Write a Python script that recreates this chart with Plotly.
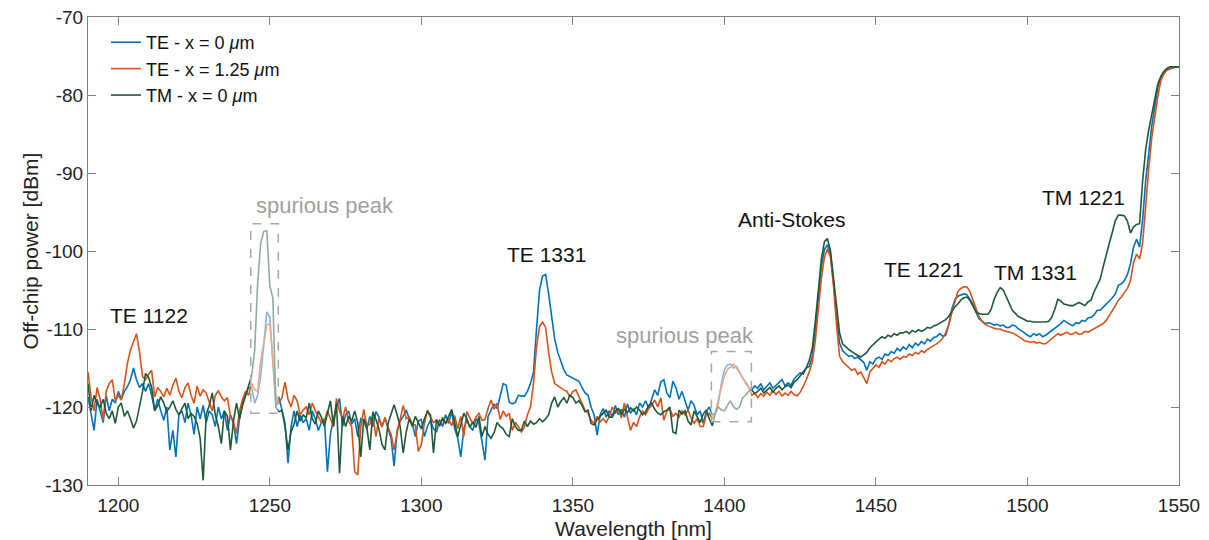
import numpy as np
import plotly.graph_objects as go

# Wavelength grid (nm), 1 nm sampling from 1190 to 1550
wavelength = list(range(1190, 1551))

te_x0 = [
    -118.7, -121, -123, -119, -120.5, -122, -118.5, -120.5, -119, -119.5,  # 1190
    -118, -119, -118, -117.4, -116.5, -115, -116.5, -117.5, -117, -118,  # 1200
    -117, -118.5, -120.4, -119, -120.5, -121.7, -120, -125.5, -123, -126.4,  # 1210
    -121, -120.5, -122, -119.5, -121, -123.5, -120, -121.5, -119.8, -122,  # 1220
    -120.5, -121, -122.5, -120, -121.5, -120.5, -123, -121, -122, -124.7,  # 1230
    -121.5, -119.5, -118.5, -117.5, -117.5, -119.5, -118.5, -116, -112, -107.8,  # 1240
    -108.5, -115, -120, -118.7, -120.5, -122.1, -127.2, -122.5, -120.5, -122.5,  # 1250
    -121, -122, -121.5, -123, -120.5, -121.5, -123, -122, -121.5, -128.3,  # 1260
    -123.5, -121.5, -120, -118.9, -122.5, -121, -120.5, -122.2, -121.5, -123.8,  # 1270
    -121.5, -121.8, -122.8, -121.2, -122.5, -120.6, -121.3, -122.5, -121.4, -122.8,  # 1280
    -124, -127.6, -123, -121.8, -121.2, -120.4, -121.5, -122.1, -123.8, -121.8,  # 1290
    -121.6, -123.8, -122.5, -121.7, -122.8, -123.2, -121.6, -122.5, -121, -122.1,  # 1300
    -120.6, -122.8, -124, -126.4, -122.8, -121.7, -122.5, -123, -121.5, -122.1,  # 1310
    -124.5, -126.8, -121.2, -120.4, -119.6, -120.2, -118.5, -117, -117.2, -119.4,  # 1320
    -119.6, -119.4, -118.5, -118.6, -118.6, -118, -117, -115.5, -110, -105,  # 1330
    -103.2, -103, -105.5, -108.6, -111.3, -113, -114.2, -115.2, -115.9, -116.1,  # 1340
    -116.3, -116.4, -116.7, -117.5, -118.2, -118.5, -120, -121, -123.6, -121,  # 1350
    -120.2, -121.3, -120.5, -121.2, -119.8, -121, -120.3, -121.3, -119.6, -120.8,  # 1360
    -120.2, -121, -119.5, -120, -119.2, -120.2, -119, -117.8, -118.5, -116.8,  # 1370
    -116.5, -118.2, -118.8, -116.7, -117.5, -119, -118, -119.3, -120.4, -119.2,  # 1380
    -119.8, -121, -120.5, -122.1, -120.6, -120, -121, -120.8, -119.5, -117,  # 1390
    -115.2, -114.6, -114.5, -115, -114.8, -115.5, -116.3, -116.8, -117.4, -117.8,  # 1400
    -117.3, -117.6, -117, -117.8, -117.4, -116.9, -117.6, -117.2, -116.8, -116.5,  # 1410
    -117.3, -116.9, -117.2, -116.4, -116, -115.6, -115.8, -115, -114.8, -113.5,  # 1420
    -110, -106, -102, -99.8, -99.2, -100.5, -104, -108.5, -111.8, -112.8,  # 1430
    -113.2, -113.5, -113.4, -113.8, -113.6, -114, -114.3, -115.3, -114.2, -114.5,  # 1440
    -113.8, -113.6, -113.9, -113.2, -113.4, -112.9, -113.1, -112.5, -112.8, -112.3,  # 1450
    -112.6, -112, -112.4, -111.8, -112.1, -111.6, -111.9, -111.3, -111.6, -111.1,  # 1460
    -111, -110.6, -110.9, -110.8, -109.5, -107.5, -106.3, -105.8, -105.6, -105.5,  # 1470
    -105.6, -106.2, -106.8, -107.8, -108.7, -109, -109.3, -109.2, -109.3, -109.5,  # 1480
    -109.4, -109.6, -109.5, -109.8, -109.8, -109.5, -109.6, -110, -110.2, -110.5,  # 1490
    -110.8, -111, -110.6, -110.8, -110.6, -111, -110.8, -110.5, -110.2, -110,  # 1500
    -109.6, -109.3, -108.9, -109.2, -109.4, -109.6, -109.2, -109.3, -108.9, -109,  # 1510
    -108.6, -108.5, -108.2, -107.6, -107.6, -107.2, -106.8, -106.5, -106, -105.5,  # 1520
    -104.4, -104.2, -103.8, -103, -101.6, -99.5, -98.5, -99.5, -96, -91,  # 1530
    -87.5, -84, -81.5, -79, -77.8, -77.2, -76.8, -76.6, -76.5, -76.4,  # 1540
    -76.4,  # 1550
]

te_x125 = [
    -115.5, -118.7, -120.5, -117.5, -119, -121.7, -118, -117, -116.5, -119.2,  # 1190
    -118.5, -119.1, -117, -114.4, -112.7, -111.5, -110.6, -113, -116.1, -116.5,  # 1200
    -115.8, -115.3, -118.7, -117.5, -118, -118.7, -117.6, -118.5, -117.2, -116.3,  # 1210
    -118, -118.8, -117.5, -116.9, -118.5, -119.5, -117.3, -118.6, -117.8, -118.2,  # 1220
    -119.4, -120.5, -118.5, -117.9, -118.7, -119.2, -118.8, -121.2, -122, -123.4,  # 1230
    -120.5, -119, -118, -118.5, -117, -117.8, -118, -114, -111.8, -109.5,  # 1240
    -109.3, -114, -118.7, -119.5, -118.8, -116.8, -119, -120, -118.5, -119.2,  # 1250
    -121, -120.4, -120, -121, -119.5, -120.5, -121.2, -122, -121.8, -120.5,  # 1260
    -121.5, -122.5, -118.9, -120.5, -121.5, -120, -121.8, -122.5, -128.3, -128.7,  # 1270
    -122.6, -120.3, -122.4, -122.2, -121, -123.8, -121.4, -122.6, -121.3, -122.6,  # 1280
    -123.5, -125.5, -123.4, -121.4, -119.8, -121.5, -121.3, -122.2, -122.3, -125.7,  # 1290
    -124.8, -122.1, -120.4, -121.3, -122, -121.7, -122.5, -121.3, -122.1, -121.6,  # 1300
    -122.4, -121.1, -122.8, -121.2, -123.8, -120.6, -121.5, -122.2, -121.3, -120.8,  # 1310
    -121.7, -121.6, -120.2, -119.1, -120.3, -119.5, -121.6, -120.5, -121.2, -120.8,  # 1320
    -123, -122, -122.5, -123.2, -122.6, -121, -120, -117, -112.3, -109.7,  # 1330
    -109.1, -109.8, -113, -115.5, -117, -117.3, -117.5, -117.8, -118, -118.7,  # 1340
    -118, -117.8, -118.7, -119.5, -120.4, -120.8, -121.7, -122.1, -121.2, -121.9,  # 1350
    -121.5, -122, -121.2, -120, -120.8, -120.2, -121.4, -119.5, -121.5, -123,  # 1360
    -122, -122.5, -121.3, -120.5, -121, -120.2, -119.8, -119.1, -120, -118.8,  # 1370
    -121.7, -120.5, -120.3, -121.2, -120.8, -121.3, -120.5, -121, -120.4, -121.4,  # 1380
    -122.1, -121.5, -122.5, -122.5, -121, -120.8, -121.5, -120.8, -119, -117.5,  # 1390
    -116, -115.2, -114.8, -114.5, -115, -115.6, -116.2, -117, -117.5, -118.5,  # 1400
    -118.2, -118.8, -118.3, -118.6, -118.1, -118.5, -117.9, -118.4, -118, -118.6,  # 1410
    -118.2, -118.5, -118, -118.4, -118.6, -118.1, -117.4, -116.5, -115.5, -114.2,  # 1420
    -111.5, -107.5, -103.5, -100.8, -99.7, -100.8, -104.5, -109.5, -113.5, -114.2,  # 1430
    -114.6, -115, -115.3, -115.1, -115.8, -115.5, -116.2, -117, -115.5, -115,  # 1440
    -114.6, -114.9, -114.2, -114.5, -113.9, -114.2, -113.8, -113.6, -113.9, -113.5,  # 1450
    -113.6, -113.2, -113.4, -113, -113.2, -112.8, -113, -112.6, -112.4, -112.1,  # 1460
    -111.9, -111.6, -111.2, -110.5, -109.5, -108, -106.5, -105.2, -104.8, -104.6,  # 1470
    -104.6, -105.2, -106.3, -107.5, -108.4, -109, -109.4, -109.6, -109.8, -109.9,  # 1480
    -110, -110, -110.2, -110.3, -110.4, -110.5, -110.7, -110.9, -111.2, -111.5,  # 1490
    -111.6, -111.7, -111.6, -111.8, -111.7, -111.9, -111.9, -111.6, -111.3, -111,  # 1500
    -110.6, -110.8, -110.6, -110.4, -110.7, -110.6, -110.4, -110.7, -110.6, -110.3,  # 1510
    -110.4, -110.2, -110, -109.8, -109.6, -109.3, -108.9, -108.3, -107.6, -107,  # 1520
    -106.3, -105.9, -105.3, -104.8, -103.8, -101.5, -100.4, -101, -99, -94,  # 1530
    -89.5, -85.5, -82.5, -80.2, -78.2, -77.3, -76.8, -76.6, -76.5, -76.4,  # 1540
    -76.4,  # 1550
]

tm_x0 = [
    -117, -120.5, -118.5, -119.6, -120, -119, -120.8, -121.5, -120.5, -122.1,  # 1190
    -120, -119.5, -121.2, -120.5, -121.5, -122.7, -121.8, -120, -118, -115.7,  # 1200
    -116.2, -117.5, -120.5, -119.8, -118.7, -119.5, -120.6, -120, -119.2, -120.3,  # 1210
    -121, -120.2, -119.5, -121.5, -120.8, -121.2, -122.1, -124, -129.4, -121,  # 1220
    -119.8, -118.2, -121, -122.5, -124.7, -120.5, -121.2, -125.5, -121.8, -119.5,  # 1230
    -121.5, -119.8, -118.5, -117.5, -116, -112.7, -104, -99, -97.5, -97.4,  # 1240
    -104.5, -106, -120, -120.6, -120.4, -122.5, -125.5, -123.2, -122.2, -120.5,  # 1250
    -121.8, -121, -121.4, -119.5, -121.5, -122.2, -120.5, -121.3, -122.5, -120.8,  # 1260
    -119.2, -122.5, -119.5, -128.5, -121.2, -122.5, -121.2, -121.8, -120.5, -122,  # 1270
    -126.4, -121.5, -122.6, -125.5, -120.6, -121.6, -122.8, -124.8, -125.5, -122.1,  # 1280
    -120.8, -119.7, -121, -122.5, -125.9, -123.2, -121.5, -122.5, -121.2, -122,  # 1290
    -122.8, -121.5, -120.6, -121, -125.9, -121.6, -122.4, -121.5, -122.1, -121.2,  # 1300
    -120.3, -122, -123.8, -122.3, -120.8, -121.5, -122.6, -121.9, -122.6, -121.2,  # 1310
    -123.8, -122.5, -123.5, -124, -123.3, -122, -122.5, -122.8, -123.5, -123.8,  # 1320
    -121.5, -122.5, -123, -123, -121.8, -122.5, -121.8, -122.2, -122, -121.5,  # 1330
    -121.9, -121.5, -121, -119.5, -118.7, -120, -119.3, -118.8, -119.5, -118.5,  # 1340
    -118.8, -119.5, -119.2, -119.8, -120.6, -120.4, -122.1, -122.3, -121.6, -121.2,  # 1350
    -120.8, -120.4, -121.3, -121.3, -120.5, -120.2, -120.9, -120.3, -120.7, -120.1,  # 1360
    -120.5, -120, -120.4, -121, -120.6, -119.8, -119.5, -120.3, -120.8, -121,  # 1370
    -120.6, -120.4, -120, -123.2, -123.4, -120.4, -120.9, -120.5, -121.8, -122.3,  # 1380
    -120.5, -121.2, -122, -120.9, -120.4, -121.5, -122.4, -120.8, -120, -120.4,  # 1390
    -120.5, -119.8, -119.2, -120, -120.3, -120, -118.8, -118.5, -118, -117.8,  # 1400
    -118.3, -118, -117.6, -118.2, -117.9, -117.5, -118.1, -117.6, -117.3, -117.8,  # 1410
    -117.4, -117.2, -117.5, -116.8, -116.5, -116, -115.6, -115, -114, -112.5,  # 1420
    -109, -105, -101, -98.8, -98.4, -100, -103.5, -107.5, -110.5, -111.9,  # 1430
    -112.3, -112.6, -112.9, -113.2, -113.4, -113.6, -113.3, -113, -112.4, -112,  # 1440
    -111.6, -111.3, -111, -111.2, -110.8, -111, -110.6, -110.8, -110.5, -110.5,  # 1450
    -110.3, -110.6, -110.2, -110.4, -110.1, -110.3, -110.1, -109.8, -109.9, -109.6,  # 1460
    -109.5, -109.3, -109.1, -108.8, -108.4, -107.8, -107.2, -106.8, -106.3, -106,  # 1470
    -105.9, -106.3, -107, -107.8, -108, -108.1, -108.1, -108.1, -107.5, -106.2,  # 1480
    -105.3, -104.7, -105, -105.9, -106.7, -107.6, -108, -108.4, -108.6, -108.8,  # 1490
    -109, -109, -109.1, -109.1, -109.1, -109.1, -109.1, -109, -108.5, -107.5,  # 1500
    -106.2, -106.4, -106.8, -106.9, -107, -107, -106.8, -106.6, -106.8, -107,  # 1510
    -106.5, -106.3, -105.2, -104.3, -103.6, -102, -100.3, -99, -97.6, -96.1,  # 1520
    -95.4, -95.4, -95.5, -96.2, -97.7, -96.9, -96.6, -96.5, -91, -87,  # 1530
    -84.5, -82.5, -80.2, -78.6, -77.6, -77, -76.6, -76.4, -76.4, -76.4,  # 1540
    -76.4,  # 1550
]

series_names = ["TE - x = 0 <i>μ</i>m", "TE - x = 1.25 <i>μ</i>m", "TM - x = 0 <i>μ</i>m"]
series_colors = ["#0072BD", "#D95319", "#1F5A38"]

x_ticks = [1200, 1250, 1300, 1350, 1400, 1450, 1500, 1550]
y_ticks = [-130, -120, -110, -100, -90, -80, -70]
y_tick_text = ["-130", "-120", "-110", "-100", "-90", "-80", "-70"]

peak_labels = ["TE 1122", "TE 1331", "Anti-Stokes", "TE 1221", "TM 1331", "TM 1221"]
peak_label_x = [1210.1, 1341.4, 1422.2, 1465.6, 1502.7, 1518.5]
peak_label_y = [-108.3, -100.5, -96.0, -102.4, -102.8, -93.2]

spur_label_x = [1268.2, 1386.9]
spur_label_y = [-94.2, -110.8]
spur_boxes = [(1243.7, 1252.8, -120.8, -96.5), (1395.7, 1408.9, -121.9, -112.9)]

assert len(wavelength) == len(te_x0) == len(te_x125) == len(tm_x0)

FONT = "Liberation Sans, Arial, Helvetica, sans-serif"

fig = go.Figure()
for name, ys, col in zip(series_names, [te_x0, te_x125, tm_x0], series_colors):
    fig.add_trace(go.Scatter(x=wavelength, y=ys, mode="lines", name=name,
                             line=dict(color=col, width=1.6)))

for (x0, x1, y0, y1) in spur_boxes:
    fig.add_shape(type="rect", xref="x", yref="y", x0=x0, x1=x1, y0=y0, y1=y1,
                  fillcolor="rgba(255,255,255,0.5)",
                  line=dict(color="#A8A8A8", width=1.5, dash="dash"), layer="above")

for t, x, y in zip(peak_labels, peak_label_x, peak_label_y):
    fig.add_annotation(x=x, y=y, text=t, showarrow=False, xref="x", yref="y",
                       font=dict(family=FONT, size=21, color="#111111"))
for x, y in zip(spur_label_x, spur_label_y):
    fig.add_annotation(x=x, y=y, text="spurious peak", showarrow=False, xref="x", yref="y",
                       font=dict(family=FONT, size=22, color="#A0A0A0"))

axis_common = dict(showline=True, linecolor="#808080", linewidth=1, mirror="ticks",
                   ticks="inside", ticklen=8, tickcolor="#808080", showgrid=False,
                   zeroline=False, automargin=False,
                   tickfont=dict(family=FONT, size=19, color="#222222"))

fig.update_xaxes(range=[1190, 1550], tickvals=x_ticks, ticklabelstandoff=3,
                 title=dict(text="Wavelength [nm]", font=dict(family=FONT, size=21, color="#222222"),
                            standoff=10),
                 **axis_common)
fig.update_yaxes(range=[-130, -70], tickvals=y_ticks, ticktext=y_tick_text,
                 title=dict(text="Off-chip power [dBm]", font=dict(family=FONT, size=21, color="#222222"),
                            standoff=0),
                 **axis_common)

fig.update_layout(
    width=1209, height=540,
    margin=dict(l=88, r=30, t=17, b=55),
    paper_bgcolor="white", plot_bgcolor="white",
    showlegend=True,
    legend=dict(x=0.0165, y=0.985, xanchor="left", yanchor="top", bgcolor="rgba(0,0,0,0)",
                font=dict(family=FONT, size=18, color="#111111"), tracegroupgap=0),
    hovermode=False,
)

fig.write_html("out.html")
